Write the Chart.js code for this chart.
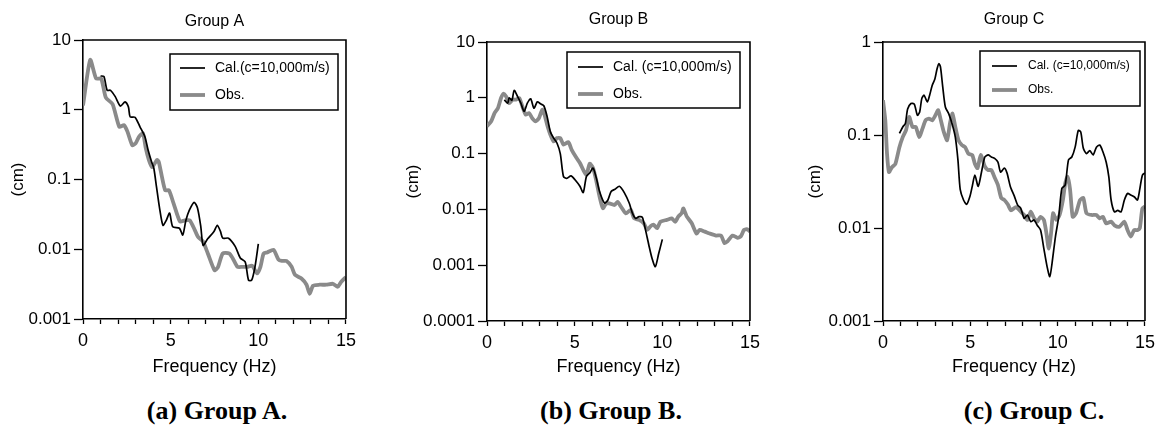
<!DOCTYPE html>
<html><head><meta charset="utf-8">
<script src="https://cdn.jsdelivr.net/npm/chart.js@4/dist/chart.umd.min.js"></script>
<style>
html,body{margin:0;padding:0;background:#fff;width:1164px;height:425px;overflow:hidden;}
.panel{position:absolute;top:0;}
.cap{position:absolute;top:396px;font:bold 26px "Liberation Serif","Times New Roman",serif;color:#000;white-space:nowrap;transform:translateX(-50%);line-height:30px;}
</style></head><body>
<div class="panel" style="left:0px"><canvas id="ca" width="362" height="385"></canvas></div>
<div class="panel" style="left:395px"><canvas id="cb" width="371" height="385"></canvas></div>
<div class="panel" style="left:797px"><canvas id="cc" width="364" height="385"></canvas></div>
<div class="cap" style="left:217px">(a) Group A.</div>
<div class="cap" style="left:611px">(b) Group B.</div>
<div class="cap" style="left:1034px">(c) Group C.</div>
<script>
// ---- Data (frequency in Hz, amplitude in cm) ----
const xMajorTicks = [0, 5, 10, 15];

const aObsF = [0,0.41,0.75,1.04,1.3,1.69,2.07,2.34,2.53,2.81,3.0,3.19,3.42,3.57,3.76,3.94,4.22,4.32,4.5,4.69,4.9,5.16,5.53,5.81,6.09,6.37,6.56,6.84,7.12,7.5,7.69,7.97,8.34,8.53,8.81,9.09,9.37,9.65,9.93,10.12,10.3,10.5,10.87,11.15,11.34,11.6,11.9,12.09,12.46,12.75,12.93,13.12,13.5,13.87,14.25,14.53,14.72,15.0];
const aObsV = [1.15,5.2,2.8,2.8,1.5,1.2,0.57,0.6,0.49,0.31,0.33,0.41,0.46,0.29,0.19,0.15,0.19,0.18,0.11,0.07,0.07,0.046,0.025,0.026,0.026,0.019,0.015,0.013,0.0087,0.005,0.0055,0.0087,0.0087,0.0075,0.0056,0.0056,0.0056,0.0058,0.0045,0.0056,0.0087,0.009,0.0098,0.0071,0.0068,0.0068,0.0056,0.0043,0.0038,0.0031,0.0023,0.0030,0.0031,0.0031,0.0032,0.0029,0.0034,0.0040];
const aCalF = [1.0,1.19,1.38,1.57,1.84,2.13,2.4,2.59,2.69,2.97,3.25,3.53,3.72,3.91,4.04,4.19,4.38,4.56,4.75,4.94,5.12,5.5,5.69,5.87,6.06,6.34,6.53,6.72,6.85,7.1,7.47,7.66,7.84,7.97,8.3,8.68,8.97,9.25,9.44,9.62,9.81,10.0];
const aCalV = [3.05,3.0,1.9,1.9,1.54,1.13,1.3,1.1,0.79,0.78,0.57,0.41,0.26,0.18,0.145,0.079,0.037,0.022,0.026,0.033,0.021,0.020,0.016,0.026,0.036,0.047,0.039,0.021,0.0114,0.014,0.018,0.022,0.018,0.0144,0.0144,0.011,0.0075,0.0066,0.0036,0.0036,0.0056,0.0119];
const aYTicks = [0.001, 0.01, 0.1, 1, 10];
const aYLabels = ['0.001', '0.01', '0.1', '1', '10'];

const bObsF = [0,0.24,0.43,0.62,0.8,0.94,1.09,1.27,1.46,1.65,1.84,2.02,2.21,2.4,2.58,2.77,2.96,3.15,3.28,3.43,3.61,3.8,3.99,4.18,4.36,4.64,4.83,5.11,5.3,5.49,5.67,5.86,6.05,6.24,6.42,6.61,6.8,6.98,7.27,7.45,7.64,7.92,8.2,8.39,8.67,8.95,9.14,9.33,9.51,9.7,9.89,10.26,10.54,10.73,10.92,11.1,11.2,11.39,11.67,11.95,12.13,12.42,12.7,13.07,13.35,13.54,13.73,14.0,14.29,14.48,14.66,14.85,15.0];
const bObsV = [0.31,0.38,0.53,0.65,0.99,1.18,1.06,0.8,0.93,0.93,0.99,0.70,0.50,0.53,0.43,0.38,0.43,0.61,0.50,0.33,0.22,0.165,0.19,0.19,0.145,0.16,0.117,0.083,0.068,0.051,0.042,0.066,0.055,0.032,0.017,0.0105,0.0128,0.0128,0.012,0.0137,0.0112,0.0085,0.0098,0.0069,0.0065,0.0056,0.0043,0.005,0.0053,0.0046,0.006,0.0065,0.0069,0.006,0.0075,0.0085,0.0104,0.0075,0.0057,0.0037,0.0043,0.004,0.0037,0.0034,0.0034,0.0025,0.0027,0.0034,0.0031,0.0033,0.0043,0.0044,0.004];
const bCalF = [0.99,1.18,1.27,1.42,1.55,1.74,1.93,2.12,2.3,2.49,2.68,2.87,3.05,3.24,3.43,3.61,3.8,3.99,4.18,4.36,4.55,4.79,5.02,5.3,5.49,5.67,5.86,6.05,6.24,6.42,6.7,6.89,7.08,7.3,7.55,7.83,8.11,8.3,8.48,8.67,8.86,9.04,9.23,9.42,9.6,9.79,10.0];
const bCalV = [0.92,0.8,1.0,0.9,1.36,1.06,0.8,0.57,0.8,0.96,0.65,0.85,0.78,0.72,0.46,0.25,0.19,0.155,0.1,0.039,0.036,0.04,0.034,0.026,0.020,0.039,0.045,0.055,0.036,0.021,0.013,0.0146,0.021,0.023,0.026,0.020,0.013,0.0085,0.0069,0.0074,0.0072,0.0043,0.0023,0.0013,0.00094,0.0016,0.0029];
const bYTicks = [0.0001, 0.001, 0.01, 0.1, 1, 10];
const bYLabels = ['0.0001', '0.001', '0.01', '0.1', '1', '10'];

const cObsF = [0,0.13,0.23,0.34,0.51,0.71,0.94,1.13,1.32,1.5,1.69,1.88,2.07,2.26,2.44,2.63,2.82,3.0,3.16,3.29,3.48,3.67,3.85,3.98,4.14,4.32,4.51,4.7,4.89,5.11,5.26,5.41,5.6,5.83,6.02,6.2,6.39,6.58,6.77,6.95,7.14,7.33,7.61,7.89,8.08,8.27,8.46,8.65,8.83,9.02,9.21,9.36,9.49,9.62,9.74,9.92,10.11,10.3,10.43,10.56,10.71,10.86,11.05,11.28,11.47,11.65,11.94,12.22,12.41,12.59,12.78,13.06,13.25,13.53,13.82,14.0,14.19,14.38,14.57,14.7,14.85,15.0];
const cObsV = [0.236,0.145,0.063,0.040,0.045,0.049,0.074,0.095,0.113,0.156,0.122,0.122,0.095,0.117,0.144,0.15,0.144,0.163,0.185,0.15,0.108,0.088,0.138,0.17,0.122,0.088,0.078,0.074,0.063,0.061,0.049,0.044,0.061,0.046,0.042,0.042,0.035,0.029,0.021,0.020,0.018,0.0155,0.0168,0.015,0.0138,0.0122,0.015,0.0127,0.0117,0.0132,0.0122,0.0087,0.006,0.0087,0.0144,0.0122,0.0138,0.020,0.030,0.0355,0.026,0.0132,0.0144,0.020,0.021,0.0144,0.0138,0.0138,0.0127,0.0132,0.0112,0.0117,0.0107,0.0103,0.0117,0.0095,0.0081,0.0095,0.0095,0.0099,0.0162,0.017];
const cCalF = [0.94,1.13,1.28,1.41,1.6,1.79,1.97,2.1,2.22,2.35,2.54,2.67,2.82,2.97,3.1,3.2,3.29,3.42,3.57,3.76,3.95,4.14,4.29,4.42,4.61,4.79,4.98,5.11,5.26,5.45,5.64,5.83,6.02,6.2,6.39,6.58,6.73,6.95,7.1,7.29,7.52,7.71,7.89,8.08,8.27,8.46,8.65,8.83,9.02,9.21,9.4,9.55,9.68,9.87,10.06,10.24,10.43,10.62,10.81,11.0,11.18,11.32,11.47,11.65,11.84,12.03,12.22,12.41,12.59,12.78,12.93,13.06,13.25,13.44,13.63,13.82,14.0,14.19,14.38,14.57,14.7,14.85,15.0];
const cCalV = [0.104,0.122,0.133,0.19,0.218,0.215,0.163,0.177,0.246,0.268,0.227,0.268,0.343,0.40,0.52,0.585,0.54,0.33,0.2,0.17,0.133,0.095,0.054,0.026,0.020,0.018,0.022,0.028,0.037,0.028,0.040,0.058,0.061,0.058,0.056,0.051,0.040,0.044,0.039,0.028,0.022,0.0176,0.0163,0.0127,0.0138,0.0117,0.0122,0.0107,0.0095,0.006,0.0038,0.003,0.0042,0.008,0.0132,0.0266,0.029,0.054,0.058,0.074,0.112,0.108,0.072,0.063,0.068,0.061,0.074,0.078,0.066,0.051,0.0355,0.020,0.0149,0.0155,0.0149,0.020,0.0235,0.0226,0.0217,0.020,0.026,0.037,0.039];
const cYTicks = [0.001, 0.01, 0.1, 1];
const cYLabels = ['0.001', '0.01', '0.1', '1'];

// ---- Rendering ----
const FONT = '"Liberation Sans", Arial, sans-serif';
Chart.defaults.font.family = FONT;
Chart.defaults.font.size = 16;
Chart.defaults.color = '#000';

function pts(f, v) { const n = Math.min(f.length, v.length); const out = []; for (let i = 0; i < n; i++) out.push({x: f[i], y: v[i]}); return out; }

const frameLegend = {
  id: 'frameLegend',
  afterDraw(chart, args, o) {
    const {ctx, chartArea: a} = chart;
    ctx.save();
    ctx.strokeStyle = '#000'; ctx.lineWidth = 1.6;
    ctx.beginPath();
    ctx.moveTo(a.left, a.top); ctx.lineTo(a.right, a.top); ctx.lineTo(a.right, a.bottom);
    ctx.stroke();
    const bx = a.left + o.dx, by = a.top + o.dy;
    ctx.fillStyle = '#fff'; ctx.fillRect(bx, by, o.w, o.h);
    ctx.strokeStyle = '#000'; ctx.lineWidth = 1.5; ctx.strokeRect(bx, by, o.w, o.h);
    ctx.font = o.fontSize + 'px ' + FONT;
    ctx.textBaseline = 'middle'; ctx.textAlign = 'left';
    chart.data.datasets.forEach((ds, i) => {
      const y = by + o.rows[i];
      ctx.strokeStyle = ds.borderColor; ctx.lineWidth = ds.borderWidth;
      ctx.beginPath(); ctx.moveTo(bx + o.lx, y); ctx.lineTo(bx + o.lx + o.ll, y); ctx.stroke();
      ctx.fillStyle = '#000'; ctx.fillText(ds.label, bx + o.tx, y);
    });
    ctx.restore();
  }
};

function makeChart(id, cfg) {
  return new Chart(document.getElementById(id), {
    type: 'line',
    data: {
      datasets: [
        {label: cfg.calLabel, data: pts(cfg.calF, cfg.calV), borderColor: '#000', borderWidth: 1.7, pointRadius: 0, tension: 0.25, fill: false},
        {label: 'Obs.', data: pts(cfg.obsF, cfg.obsV), borderColor: '#8a8a8a', borderWidth: 3.8, pointRadius: 0, tension: 0.2, fill: false}
      ]
    },
    options: {
      responsive: false, animation: false, devicePixelRatio: 1,
      layout: {padding: {left: 0, right: 12, top: 0, bottom: 0}},
      plugins: {
        legend: {display: false}, tooltip: {enabled: false},
        title: {display: true, text: cfg.title, fullSize: false, font: {size: 16, weight: 'normal'}, color: '#000',
                padding: {top: cfg.tPadTop, bottom: cfg.tPadBottom}},
        frameLegend: cfg.legend
      },
      scales: {
        x: {
          type: 'linear', min: 0, max: 15,
          title: {display: true, text: 'Frequency (Hz)', font: {size: 18}, padding: {top: 0, bottom: 7}},
          ticks: {stepSize: 1, autoSkip: false, maxRotation: 0, padding: 6, font: {size: 18},
                  callback: (v) => xMajorTicks.includes(v) ? String(v) : ''},
          grid: {drawOnChartArea: false, drawTicks: true, tickLength: 5, tickColor: '#000', tickWidth: 1.3},
          border: {display: true, color: '#000', width: 1.6},
          afterFit: (s) => { s.height = 385 - cfg.bottom; }
        },
        y: {
          type: 'logarithmic', min: cfg.yTicks[0], max: cfg.yTicks[cfg.yTicks.length - 1],
          afterBuildTicks: (s) => { s.ticks = cfg.yTicks.map(v => ({value: v})); },
          title: {display: true, text: '(cm)', font: {size: 17}, padding: {top: 8, bottom: 0}},
          ticks: {padding: 3, font: {size: 17}, autoSkip: false, callback: (v, i) => cfg.yLabels[i]},
          grid: {drawOnChartArea: false, drawTicks: true, tickLength: 9, tickColor: '#000', tickWidth: 1.3},
          border: {display: true, color: '#000', width: 1.6},
          afterFit: (s) => { s.width = cfg.yWidth; }
        }
      }
    },
    plugins: [frameLegend]
  });
}

makeChart('ca', {title: 'Group A', calLabel: 'Cal.(c=10,000m/s)', calF: aCalF, calV: aCalV, obsF: aObsF, obsV: aObsV,
  yTicks: aYTicks, yLabels: aYLabels, yWidth: 83, bottom: 319, tPadTop: 12.4, tPadBottom: 8.4,
  legend: {dx: 87, dy: 14, w: 168, h: 56, rows: [14, 41], lx: 10, ll: 25, tx: 45, fontSize: 14}});
makeChart('cb', {title: 'Group B', calLabel: 'Cal. (c=10,000m/s)', calF: bCalF, calV: bCalV, obsF: bObsF, obsV: bObsV,
  yTicks: bYTicks, yLabels: bYLabels, yWidth: 92, bottom: 321, tPadTop: 10.4, tPadBottom: 12.4,
  legend: {dx: 80, dy: 10, w: 173, h: 56, rows: [15, 42], lx: 11, ll: 25, tx: 46, fontSize: 14}});
makeChart('cc', {title: 'Group C', calLabel: 'Cal. (c=10,000m/s)', calF: cCalF, calV: cCalV, obsF: cObsF, obsV: cObsV,
  yTicks: cYTicks, yLabels: cYLabels, yWidth: 86, bottom: 321, tPadTop: 10.4, tPadBottom: 12.4,
  legend: {dx: 97, dy: 9, w: 160, h: 55, rows: [15, 39], lx: 12, ll: 25, tx: 48, fontSize: 12}});
</script>
</body></html>
